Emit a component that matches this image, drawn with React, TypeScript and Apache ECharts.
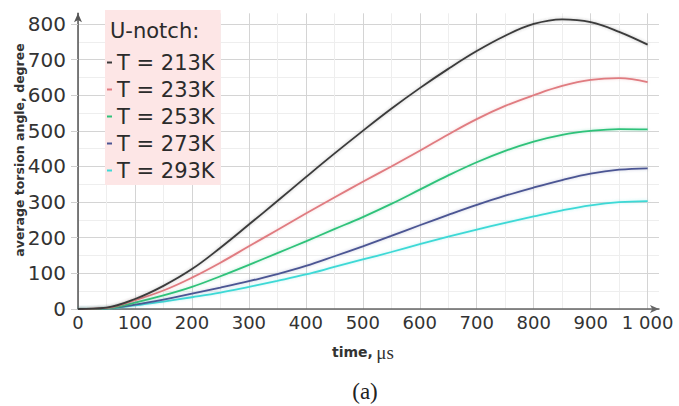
import React, { useEffect, useRef } from "react";
import * as echarts from "echarts";

const times = [0, 50, 100, 150, 200, 250, 300, 350, 400, 450, 500, 550, 600, 650, 700, 750, 800, 850, 900, 950, 1000];
const seriesNames = ["T = 213K", "T = 233K", "T = 253K", "T = 273K", "T = 293K"];
const t213 = [0, 4, 28, 65, 112, 172, 237, 303, 370, 436, 500, 562, 620, 674, 724, 767, 800, 813, 805, 778, 742];
const t233 = [0, 3, 25, 52, 88, 130, 176, 222, 268, 313, 357, 400, 444, 490, 533, 570, 600, 626, 643, 648, 637];
const t253 = [0, 2, 18, 38, 62, 92, 124, 157, 190, 224, 258, 295, 335, 375, 412, 444, 470, 489, 500, 505, 504];
const t273 = [0, 2, 12, 26, 43, 60, 78, 98, 121, 148, 176, 205, 235, 264, 292, 318, 341, 362, 380, 391, 395];
const t293 = [0, 1, 10, 21, 33, 46, 62, 79, 97, 118, 139, 160, 182, 203, 223, 242, 260, 277, 291, 300, 303];
const allValues = [t213, t233, t253, t273, t293];
const colors = ["#3a3a3a", "#e07b80", "#2fc27a", "#4b5593", "#3dd9d6"];

const FONT = "DejaVu Sans";

export default function App() {
  const ref = useRef<HTMLDivElement>(null);
  useEffect(() => {
    document.body.style.margin = "0";
    const chart = echarts.init(ref.current!, null, { renderer: "svg" });
    const series = seriesNames.map((name, i) => ({
      name,
      type: "line",
      data: times.map((t, j) => [t, allValues[i][j]]),
      smooth: 0.4,
      showSymbol: false,
      lineStyle: { color: colors[i], width: 1.8, shadowColor: colors[i] + "55", shadowBlur: 3 },
      itemStyle: { color: colors[i] },
      z: 10 - i,
    }));
    chart.setOption({
      animation: false,
      backgroundColor: "#ffffff",
      grid: { left: 78, right: 20, top: 13.3, bottom: 97 },
      xAxis: {
        type: "value",
        min: 0,
        max: 1020,
        interval: 100,
        axisLine: { show: true, symbol: ["none", "arrow"], symbolSize: [6, 9], lineStyle: { color: "#666", width: 1.5 } },
        axisTick: { show: false },
        axisLabel: {
          showMaxLabel: false,
          margin: 4,
          fontSize: 18,
          fontFamily: FONT,
          color: "#333",
          formatter: (v: number) => (v === 1000 ? "1 000" : String(v)),
        },
        splitLine: { show: true, showMaxLine: false, lineStyle: { color: "#d4d4d4", width: 1 } },
        minorTick: { show: false, splitNumber: 2 },
        minorSplitLine: { show: true, lineStyle: { color: "#eeeeee", width: 1 } },
      },
      yAxis: {
        type: "value",
        min: 0,
        max: 830,
        interval: 100,
        axisLine: { show: true, symbol: ["none", "arrow"], symbolSize: [6, 9], lineStyle: { color: "#555", width: 1.5 } },
        axisTick: { show: true, length: 7, lineStyle: { color: "#cfcfcf" } },
        axisLabel: {
          showMaxLabel: false,
          margin: 12,
          fontSize: 20,
          fontFamily: FONT,
          color: "#333",
        },
        splitLine: { show: true, showMaxLine: false, lineStyle: { color: "#d4d4d4", width: 1 } },
        minorTick: { show: false, splitNumber: 2 },
        minorSplitLine: { show: true, lineStyle: { color: "#eeeeee", width: 1 } },
      },
      legend: {
        data: seriesNames,
        left: 105,
        top: 10,
        orient: "vertical",
        padding: [42, 6, 4, 2],
        itemGap: 6,
        itemWidth: 5,
        itemHeight: 2,
        icon: "rect",
        backgroundColor: "#fde6e6",
        selectedMode: false,
        textStyle: { fontSize: 21, fontFamily: FONT, color: "#2b2b2b", lineHeight: 21 },
      },
      graphic: [
        {
          type: "text",
          z: 100,
          left: 110,
          top: 20,
          style: { text: "U-notch:", fontSize: 21, fontFamily: FONT, fill: "#2b2b2b" },
        },
        {
          type: "text",
          z: 100,
          x: 19,
          y: 150,
          rotation: Math.PI / 2,
          style: {
            text: "average torsion angle, degree",
            fontSize: 12.5,
            fontWeight: "bold",
            fontFamily: "DejaVu Sans",
            fill: "#333",
            align: "center",
            verticalAlign: "middle",
          },
        },
        {
          type: "text",
          z: 100,
          x: 332,
          y: 352,
          style: {
            text: "{b|time,} {s|μs}",
            verticalAlign: "middle",
            rich: {
              b: { fontSize: 14, fontWeight: "bold", fontFamily: FONT, fill: "#333", color: "#333" },
              s: { fontSize: 19, fontFamily: "Liberation Serif", fill: "#333", color: "#333" },
            },
          },
        },
        {
          type: "text",
          z: 100,
          x: 365,
          y: 391,
          style: {
            text: "(a)",
            fontSize: 23,
            fontFamily: "Liberation Serif",
            fill: "#222",
            align: "center",
            verticalAlign: "middle",
          },
        },
      ],
      series,
    });
    return () => chart.dispose();
  }, []);
  return <div ref={ref} style={{ width: 679, height: 406 }} />;
}
